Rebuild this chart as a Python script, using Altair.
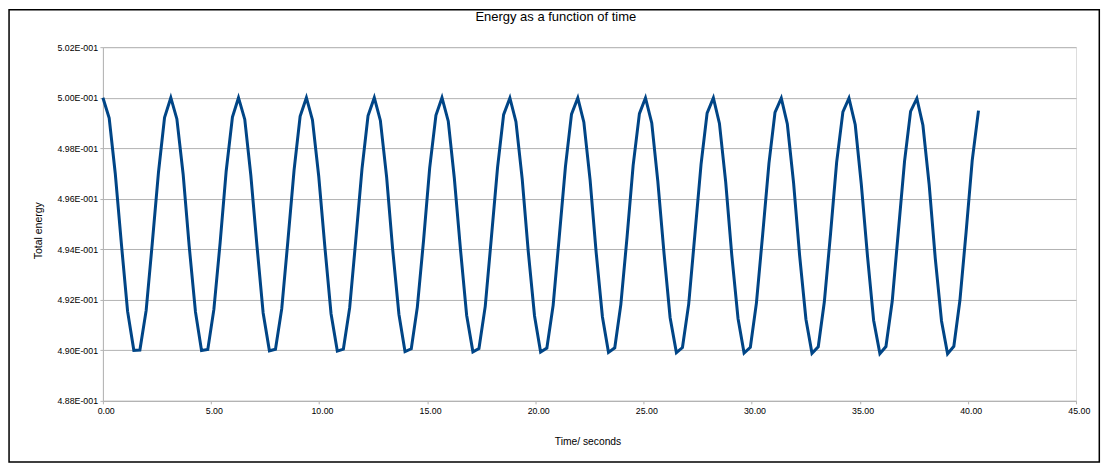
import altair as alt
import pandas as pd

# Sample times (seconds)
time_s = [
    0.00, 0.29, 0.57, 0.86, 1.14, 1.43, 1.71, 2.00, 2.28, 2.57, 2.85,
    3.14, 3.42, 3.71, 3.99, 4.28, 4.56, 4.85, 5.13, 5.42, 5.70, 5.99,
    6.27, 6.56, 6.84, 7.13, 7.41, 7.70, 7.98, 8.27, 8.55, 8.84, 9.12,
    9.41, 9.69, 9.98, 10.27, 10.55, 10.84, 11.12, 11.41, 11.69, 11.98, 12.26,
    12.55, 12.83, 13.12, 13.40, 13.69, 13.97, 14.26, 14.54, 14.83, 15.11, 15.40,
    15.68, 15.97, 16.25, 16.54, 16.82, 17.11, 17.39, 17.68, 17.96, 18.25, 18.53,
    18.82, 19.10, 19.39, 19.67, 19.96, 20.24, 20.53, 20.82, 21.10, 21.39, 21.67,
    21.96, 22.24, 22.53, 22.81, 23.10, 23.38, 23.67, 23.95, 24.24, 24.52, 24.81,
    25.09, 25.38, 25.66, 25.95, 26.23, 26.52, 26.80, 27.09, 27.37, 27.66, 27.94,
    28.23, 28.51, 28.80, 29.08, 29.37, 29.65, 29.94, 30.22, 30.51, 30.80, 31.08,
    31.37, 31.65, 31.94, 32.22, 32.51, 32.79, 33.08, 33.36, 33.65, 33.93, 34.22,
    34.50, 34.79, 35.07, 35.36, 35.64, 35.93, 36.21, 36.50, 36.78, 37.07, 37.35,
    37.64, 37.92, 38.21, 38.49, 38.78, 39.06, 39.35, 39.63, 39.92, 40.20, 40.49,
]

# Total energy
total_energy = [
    0.50000, 0.49919, 0.49701, 0.49416, 0.49155, 0.49000, 0.49001, 0.49158, 0.49421, 0.49705, 0.49921,
    0.50000, 0.49916, 0.49697, 0.49412, 0.49152, 0.48999, 0.49003, 0.49161, 0.49425, 0.49709, 0.49923,
    0.50000, 0.49914, 0.49693, 0.49408, 0.49148, 0.48998, 0.49004, 0.49165, 0.49429, 0.49713, 0.49926,
    0.50000, 0.49912, 0.49689, 0.49404, 0.49145, 0.48997, 0.49005, 0.49168, 0.49433, 0.49717, 0.49928,
    0.50000, 0.49910, 0.49686, 0.49399, 0.49142, 0.48995, 0.49006, 0.49171, 0.49437, 0.49721, 0.49930,
    0.50000, 0.49907, 0.49682, 0.49395, 0.49139, 0.48994, 0.49007, 0.49174, 0.49442, 0.49724, 0.49933,
    0.49999, 0.49905, 0.49678, 0.49391, 0.49136, 0.48993, 0.49009, 0.49178, 0.49446, 0.49728, 0.49935,
    0.49999, 0.49903, 0.49674, 0.49387, 0.49132, 0.48992, 0.49010, 0.49181, 0.49450, 0.49732, 0.49937,
    0.49999, 0.49900, 0.49670, 0.49382, 0.49129, 0.48991, 0.49011, 0.49184, 0.49454, 0.49736, 0.49939,
    0.49999, 0.49898, 0.49666, 0.49378, 0.49126, 0.48989, 0.49012, 0.49187, 0.49459, 0.49740, 0.49942,
    0.49998, 0.49896, 0.49662, 0.49374, 0.49123, 0.48988, 0.49014, 0.49191, 0.49463, 0.49744, 0.49944,
    0.49998, 0.49893, 0.49658, 0.49370, 0.49119, 0.48987, 0.49015, 0.49194, 0.49467, 0.49748, 0.49946,
    0.49997, 0.49891, 0.49655, 0.49365, 0.49116, 0.48986, 0.49016, 0.49197, 0.49471, 0.49752, 0.49949,
]

x_ticks = [0, 5, 10, 15, 20, 25, 30, 35, 40, 45]
y_ticks = [0.488, 0.490, 0.492, 0.494, 0.496, 0.498, 0.500, 0.502]

chart_title = "Energy as a function of time"
x_title = "Time/ seconds"
y_title = "Total energy"

FONT = "Liberation Sans"
GRAY = "#b3b3b3"
W, H = 974, 354

df = pd.DataFrame({"time": time_s, "energy": total_energy})
one = pd.DataFrame({"label": [chart_title]})

line = alt.Chart(df).mark_line(color="#004586", strokeWidth=3, strokeJoin="miter").encode(
    x=alt.X(
        "time:Q",
        scale=alt.Scale(domain=[0, 45], nice=False, zero=False),
        axis=alt.Axis(
            values=x_ticks, format=".2f", grid=False, labelFlush=False, labelOverlap=False,
            labelFont=FONT, labelFontSize=8.8, labelColor="#000000", labelPadding=3,
            labelOffset=2.8,
            tickSize=3, tickColor=GRAY, domainColor=GRAY,
            title=x_title, titleFont=FONT, titleFontSize=10.3, titleFontWeight="normal",
            titleColor="#000000", titleX=485, titleY=40.3, titleBaseline="middle",
            titleAlign="center",
        ),
    ),
    y=alt.Y(
        "energy:Q",
        scale=alt.Scale(domain=[0.488, 0.502], nice=False, zero=False),
        axis=alt.Axis(
            values=y_ticks, labelExpr="format(datum.value*10, '.2f') + 'E-001'",
            grid=True, gridColor=GRAY, gridWidth=1, labelFlush=False, labelOverlap=False,
            labelFont=FONT, labelFontSize=8.8, labelColor="#000000", labelPadding=2.4,
            tickSize=3, tickColor=GRAY, domainColor=GRAY,
            title=y_title, titleFont=FONT, titleFontSize=10.5, titleFontWeight="normal",
            titleColor="#000000", titleX=-64.4, titleY=183.2, titleBaseline="middle",
            titleAlign="center", titleAngle=-90,
        ),
    ),
)

# decorative outer frame around the whole chart
frame = alt.Chart(one).mark_rect(fillOpacity=0, stroke="#000000", strokeWidth=1.5).encode(
    x=alt.value(-93.95), x2=alt.value(997.3),
    y=alt.value(-37.55), y2=alt.value(415.2),
)

title = alt.Chart(one).mark_text(
    font=FONT, fontSize=13, color="#000000", align="center", baseline="middle"
).encode(
    text="label:N",
    x=alt.value(453.3), y=alt.value(-30.6),
)

chart = alt.layer(line, frame, title).properties(
    width=W, height=H, padding=0
).configure_view(stroke=GRAY, strokeWidth=1).configure(background="#ffffff")

chart.save("out.html", embed_options={"renderer": "svg", "actions": False})
